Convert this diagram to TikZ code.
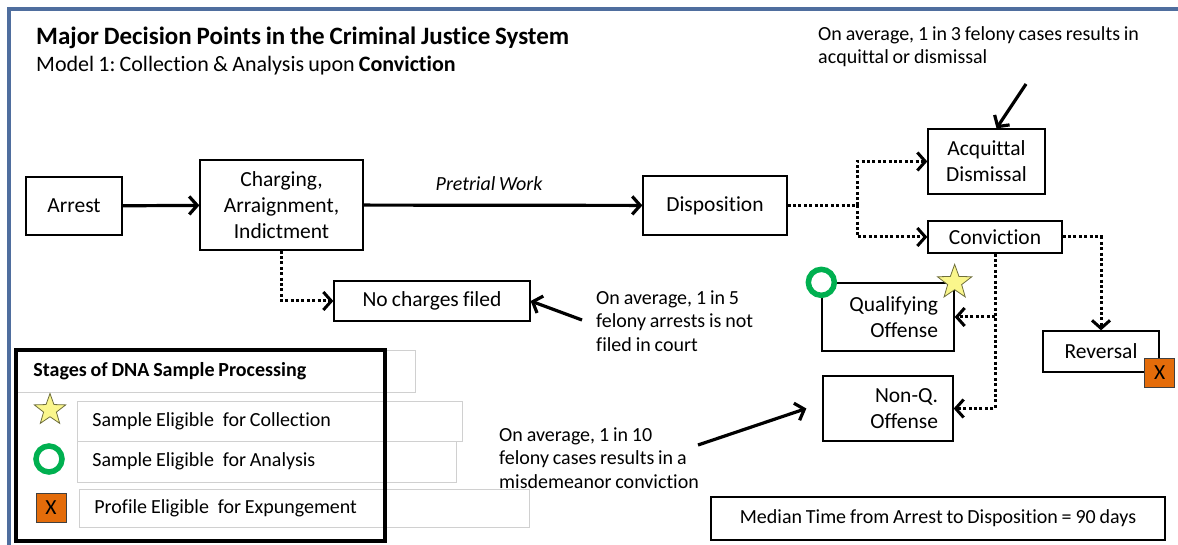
\documentclass[tikz,border=0pt]{standalone}
\usepackage{fontspec}
\setmainfont{Carlito}[Ligatures=NoCommon, WordSpace=0.85]
\usetikzlibrary{arrows.meta, shapes.geometric}
\frenchspacing

\definecolor{frameblue}{RGB}{79,110,158}
\definecolor{xorange}{RGB}{228,108,10}
\definecolor{ringgreen}{RGB}{0,176,80}
\definecolor{staryellow}{RGB}{250,246,140}
\definecolor{legendgrey}{RGB}{208,208,208}

\newcommand{\boxfont}{\fontsize{21.5}{26}\selectfont}
\newcommand{\notefont}{\fontsize{20}{23.5}\selectfont}
\newcommand{\rowtext}[2]{\makebox[#1][l]{#2}}

\begin{document}
\begin{tikzpicture}[x=1pt, y=-1pt,
    box/.style={draw, line width=1.3pt, fill=white, inner sep=0pt, font=\boxfont, align=center},
    solidarrow/.style={line width=3.2pt, -{Straight Barb[length=8pt,width=18pt]}},
    dotarrow/.style={line width=3pt, dash pattern=on 3pt off 2.4pt, -{Straight Barb[length=8pt,width=18pt]}},
    dotline/.style={line width=3pt, dash pattern=on 3pt off 2.4pt},
    note/.style={font=\notefont, align=left, anchor=west, inner sep=0pt},
    rowbox/.style={draw=legendgrey, line width=0.8pt, anchor=west, font=\notefont, inner xsep=15pt, inner ysep=0pt},
    starmark/.style={star, star points=5, star point ratio=2.45, draw={rgb,255:red,110;green,110;blue,60}, fill=staryellow, line width=0.8pt, inner sep=0pt, minimum size=36pt},
    ringmark/.style={circle, draw=ringgreen, line width=5.5pt, fill=white, inner sep=0pt, minimum size=26pt},
    xmark/.style={draw=black!75, fill=xorange, line width=0.8pt, minimum width=30pt, minimum height=29pt, inner sep=0pt, font=\boxfont}]

    \useasboundingbox (0,0) rectangle (1178,545);
    \draw[frameblue, line width=4pt] (9,547) -- (9,9.5) -- (1180,9.5);

    % heading
    \node[anchor=base west, inner sep=0pt, font=\fontsize{25}{29}\selectfont\bfseries] (title) at (36,45) {Major Decision Points in the Criminal Justice System};
    \node[anchor=base west, inner sep=0pt, font=\fontsize{22}{26}\selectfont] (subtitle) at (36,72) {Model 1: Collection \& Analysis upon \textbf{Conviction}};

    % decision points
    \node[box, minimum width=96, minimum height=58] (arrest) at (74,206) {Arrest};
    \node[box, minimum width=163, minimum height=90] (charging) at (281.5,205) {Charging,\\Arraignment,\\Indictment};
    \node[box, minimum width=144, minimum height=59] (disposition) at (715,205.5) {Disposition};
    \node[box, minimum width=117, minimum height=65] (acquittal) at (986.5,161.5) {Acquittal\\Dismissal};
    \node[box, minimum width=134, minimum height=32] (conviction) at (995,237) {Conviction};
    \node[box, minimum width=196, minimum height=40] (nocharges) at (432,301) {No charges filed};
    \node[box, minimum width=132, minimum height=68, text width=100pt, align=right] (qualifying) at (888,317) {Qualifying\\Offense};
    \node[box, minimum width=130, minimum height=65, text width=100pt, align=right] (nonq) at (888,408.5) {Non-Q.\\Offense};
    \node[box, minimum width=116, minimum height=41] (reversal) at (1101,351.5) {Reversal};
    \node[box, minimum width=454, minimum height=43, font=\notefont] (median) at (938,518.5) {Median Time from Arrest to Disposition = 90 days};

    % markers
    \node[ringmark] (qualring) at (qualifying.north west) {};
    \node[starmark] (qualstar) at (qualifying.north east) {};
    \node[xmark] (revx) at (reversal.south east) {X};

    % flow
    \draw[solidarrow] (arrest) -- (charging);
    \draw[solidarrow] (charging) -- node[pos=0.45, above=13pt, inner sep=0pt, font=\notefont\itshape] (pretrial) {Pretrial Work} (disposition);
    \draw[dotarrow] (charging.south) |- (nocharges.west);
    \coordinate (split) at (857,205.5);
    \draw[dotline] (disposition.east) -- (split);
    \draw[dotarrow] (split) |- (acquittal.west);
    \draw[dotarrow] (split) |- (conviction.west);
    \draw[dotarrow] (conviction.east) -| (reversal.north);
    \draw[dotarrow] (conviction.south) |- (nonq.east);
    \draw[dotarrow] (conviction.south |- qualifying.east) -- (qualifying.east);

    % notes
    \node[note] (note3) at (818,46.5) {On average, 1 in 3 felony cases results in\\acquittal or dismissal};
    \node[note] (note5) at (596,321) {On average, 1 in 5\\felony arrests is not\\filed in court};
    \node[note] (note10) at (499,458) {On average, 1 in 10\\felony cases results in a\\misdemeanor conviction};
    \coordinate (note3tail) at (1026,84);
    \coordinate (note5tail) at (582,320);
    \coordinate (note10tail) at (698,445);
    \draw[solidarrow] (note3tail) -- ([xshift=10pt]acquittal.north);
    \draw[solidarrow] (note5tail) -- (nocharges.east);
    \draw[solidarrow] (note10tail) -- ([xshift=-16pt]nonq.west);

    % legend
    \node[rowbox, minimum height=42, inner xsep=17pt, font=\notefont\bfseries] (legendhead) at (16,371) {\rowtext{365pt}{Stages of DNA Sample Processing}};
    \node[rowbox, minimum height=40] (rowcollect) at (77,421) {\rowtext{355pt}{Sample Eligible\hspace{5pt} for Collection}};
    \node[rowbox, minimum height=41] (rowanalyse) at (77,461.5) {\rowtext{349pt}{Sample Eligible\hspace{5pt} for Analysis}};
    \node[rowbox, minimum height=38] (rowexpunge) at (79,508) {\rowtext{420pt}{Profile Eligible\hspace{5pt} for Expungement}};
    \draw[line width=3.5pt] (16,350) rectangle (385,541);
    \node[starmark, minimum size=33pt] (keystar) at (50,410) {};
    \node[ringmark] (keyring) at (49,459) {};
    \node[xmark] (keyx) at (51,508) {X};
\end{tikzpicture}
\end{document}
